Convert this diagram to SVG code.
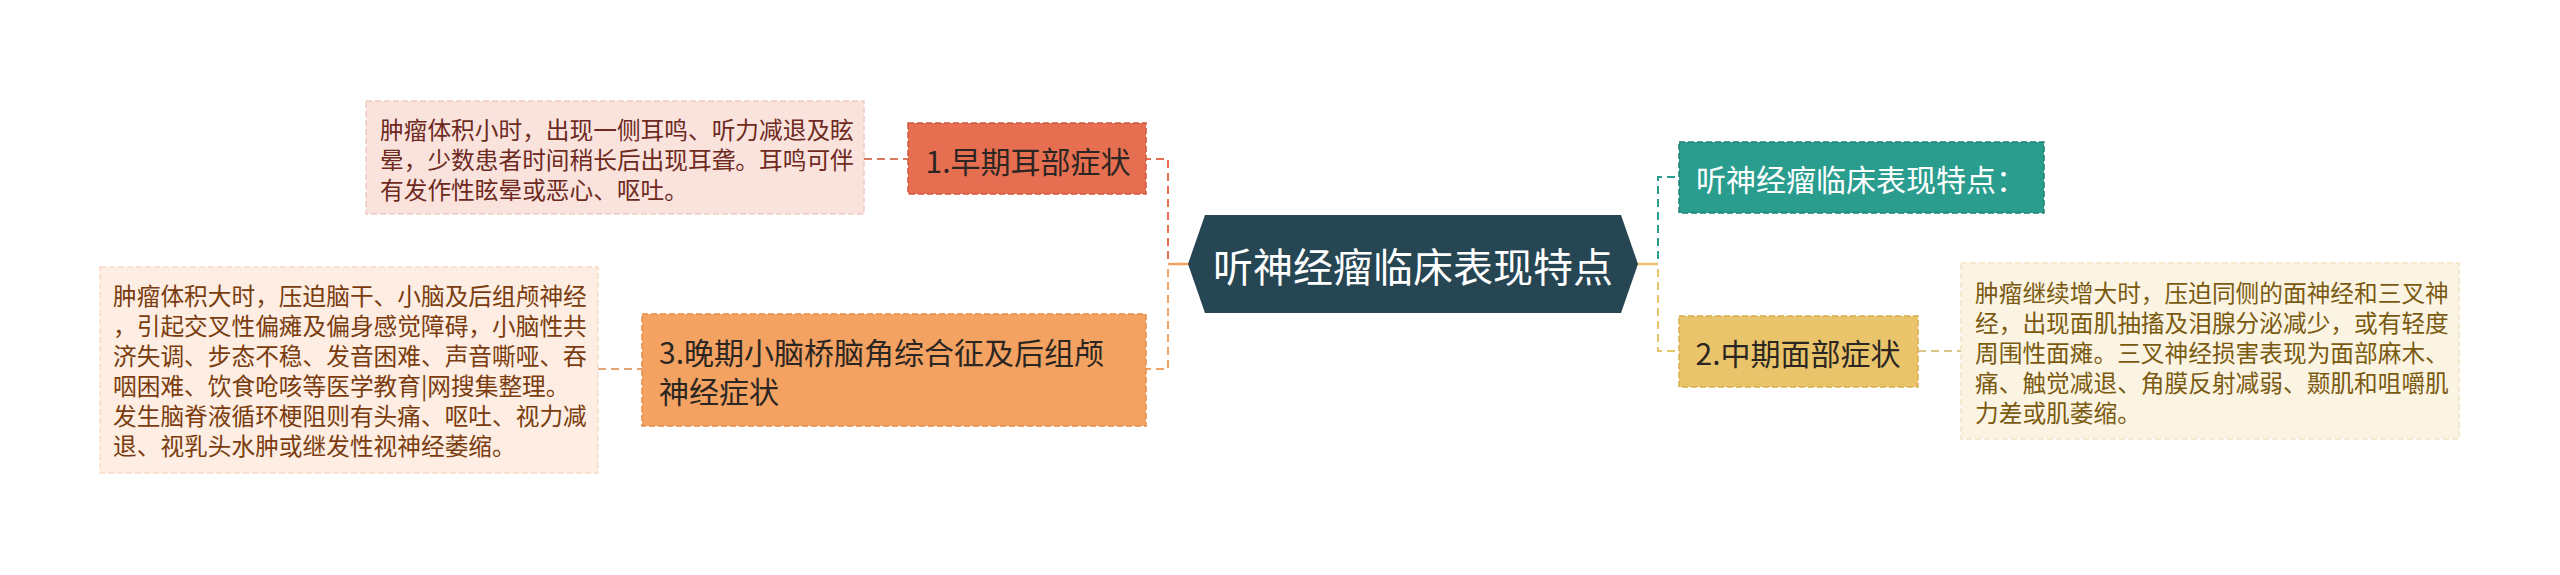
<svg xmlns="http://www.w3.org/2000/svg" width="2560" height="575" viewBox="0 0 2560 575">
<style>
  text { font-family: "Noto Sans CJK SC", "Liberation Sans", sans-serif; dominant-baseline: central; }
  .leaf { font-size: 23.7px; }
  .node { font-size: 30px; }
  .conn { fill: none; stroke-width: 2; stroke-dasharray: 8 5; }
  .solid { fill: none; stroke-width: 2.5; }
  .nb { stroke-width: 1.5; stroke-dasharray: 6 3; }
</style>
<rect width="2560" height="575" fill="#ffffff"/>
<g id="connectors">
  <path class="conn" stroke="#e76f51" d="M1189 264 H1168 V159 H1146"/>
  <path class="conn" stroke="#f4a261" d="M1189 264 H1168 V369 H1146"/>
  <path class="conn" stroke="#2a9d8f" d="M1637 264 H1658 V177 H1679"/>
  <path class="conn" stroke="#e9c46a" d="M1637 264 H1658 V351 H1679"/>
  <path class="solid" stroke="#f4a261" d="M1168 264 H1190"/>
  <path class="solid" stroke="#e9c46a" d="M1636 264 H1658"/>
  <path class="conn" stroke="#d67a60" d="M864 159 H908"/>
  <path class="conn" stroke="#e0a578" d="M598 369 H642"/>
  <path class="conn" stroke="#d9c48c" d="M1918 351 H1961"/>
</g>
<g id="center">
  <polygon points="1188,264 1205,215 1621,215 1638,264 1621,313 1205,313" fill="#264653"/>
  <text x="1413" y="265" font-size="40" fill="#ffffff" text-anchor="middle">听神经瘤临床表现特点</text>
</g>
<g id="node1">
  <rect class="nb" x="908" y="123" width="238" height="71" fill="#e76f51" stroke="#cf5a3e"/>
  <text class="node" x="1028" y="160" fill="#2b2622" text-anchor="middle">1.早期耳部症状</text>
</g>
<g id="leaf1">
  <rect class="nb" x="366" y="101" width="498" height="113" fill="#fae3dd" stroke="#f2cbc0"/>
  <text class="leaf" fill="#6e2a1e"><tspan x="380" y="129">肿瘤体积小时，出现一侧耳鸣、听力减退及眩</tspan><tspan x="380" y="159">晕，少数患者时间稍长后出现耳聋。耳鸣可伴</tspan><tspan x="380" y="189">有发作性眩晕或恶心、呕吐。</tspan></text>
</g>
<g id="node3">
  <rect class="nb" x="642" y="314" width="504" height="112" fill="#f4a261" stroke="#e38d4a"/>
  <text class="node" fill="#2b2622"><tspan x="659" y="351">3.晚期小脑桥脑角综合征及后组颅</tspan><tspan x="659" y="390">神经症状</tspan></text>
</g>
<g id="leaf3">
  <rect class="nb" x="100" y="267" width="498" height="206" fill="#fdede2" stroke="#f8dcc8"/>
  <text class="leaf" fill="#7a3c0e"><tspan x="113" y="295">肿瘤体积大时，压迫脑干、小脑及后组颅神经</tspan><tspan x="113" y="325">，引起交叉性偏瘫及偏身感觉障碍，小脑性共</tspan><tspan x="113" y="355">济失调、步态不稳、发音困难、声音嘶哑、吞</tspan><tspan x="113" y="385">咽困难、饮食呛咳等医学教育|网搜集整理。</tspan><tspan x="113" y="415">发生脑脊液循环梗阻则有头痛、呕吐、视力减</tspan><tspan x="113" y="445">退、视乳头水肿或继发性视神经萎缩。</tspan></text>
</g>
<g id="node_teal">
  <rect class="nb" x="1679" y="142" width="365" height="71" fill="#2a9d8f" stroke="#1f8275"/>
  <text class="node" x="1861" y="178" fill="#ffffff" text-anchor="middle">听神经瘤临床表现特点：</text>
</g>
<g id="node2">
  <rect class="nb" x="1679" y="316" width="239" height="71" fill="#e9c46a" stroke="#d6ad4f"/>
  <text class="node" x="1798" y="352" fill="#2b2622" text-anchor="middle">2.中期面部症状</text>
</g>
<g id="leaf2">
  <rect class="nb" x="1961" y="263" width="498" height="176" fill="#fcf4e3" stroke="#f3e5c4"/>
  <text class="leaf" fill="#7a5a10"><tspan x="1975" y="292">肿瘤继续增大时，压迫同侧的面神经和三叉神</tspan><tspan x="1975" y="322">经，出现面肌抽搐及泪腺分泌减少，或有轻度</tspan><tspan x="1975" y="352">周围性面瘫。三叉神经损害表现为面部麻木、</tspan><tspan x="1975" y="382">痛、触觉减退、角膜反射减弱、颞肌和咀嚼肌</tspan><tspan x="1975" y="412">力差或肌萎缩。</tspan></text>
</g>
</svg>
